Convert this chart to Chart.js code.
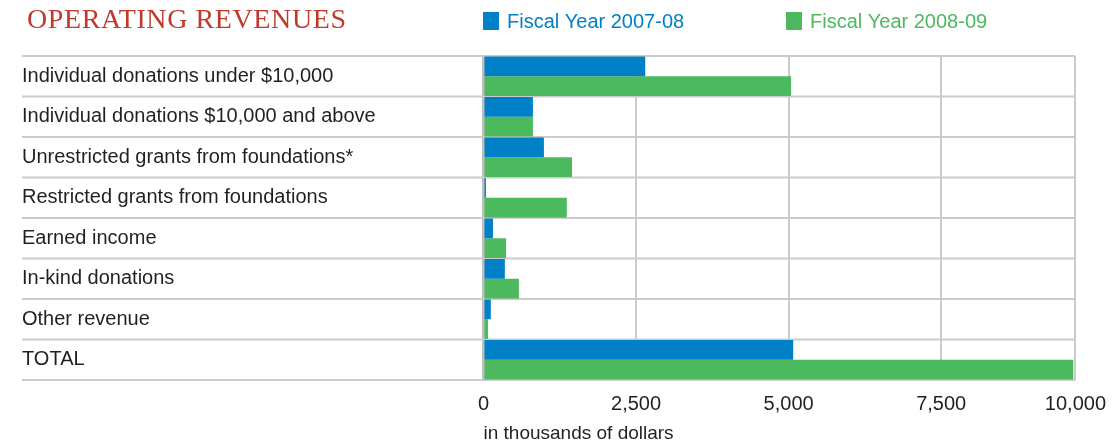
<!DOCTYPE html>
<html>
<head>
<meta charset="utf-8">
<script src="https://cdn.jsdelivr.net/npm/chart.js@4.4.1/dist/chart.umd.min.js"></script>
<style>
  html, body { margin: 0; padding: 0; background: #fff; }
  #wrap { width: 1118px; height: 442px; }
</style>
</head>
<body>
<div id="wrap"><canvas id="grafico" width="1118" height="442"></canvas></div>
<script>
// data (in thousands of dollars)
const categorias = [
  "Individual donations under $10,000",
  "Individual donations $10,000 and above",
  "Unrestricted grants from foundations*",
  "Restricted grants from foundations",
  "Earned income",
  "In-kind donations",
  "Other revenue",
  "TOTAL"
]
const fy0708 = [2650, 810, 990, 40, 155, 350, 120, 5075]
const fy0809 = [5040, 810, 1450, 1365, 370, 580, 75, 9665]
const serieNombres = ["Fiscal Year 2007-08", "Fiscal Year 2008-09"]
const xTicks = [0, 2500, 5000, 7500, 10000]
const xFin = 9700  // the plot stops a bit short of 10,000 in the original
const titulo = "OPERATING REVENUES"
const ejeTitulo = "in thousands of dollars"

const azul = "#0080c6"
const verde = "#4cb95e"
const gris = "#cbcbcb"
const texto = "#231f20"

// title + legend drawn on top of the canvas
const encabezado = {
  id: "encabezado",
  afterDraw(chart) {
    const c = chart.ctx
    c.save()
    c.textBaseline = "alphabetic"
    c.font = "28px 'Liberation Serif'"
    c.letterSpacing = "0.6px"
    c.fillStyle = "#c0392b"
    c.fillText(titulo, 27, 28)
    c.letterSpacing = "0px"
    const leyenda = [[483, azul, serieNombres[0]], [786, verde, serieNombres[1]]]
    c.font = "20px 'Liberation Sans'"
    leyenda.forEach(([x, color, nombre]) => {
      c.fillStyle = color
      c.fillRect(x, 12, 16, 18)
      c.fillText(nombre, x + 24, 28)
    })
    c.restore()
  }
}

// row separators run under the labels as well
const filas = {
  id: "filas",
  beforeDatasetsDraw(chart) {
    const y = chart.scales.y
    const c = chart.ctx
    const paso = y.getPixelForValue(1) - y.getPixelForValue(0)
    c.save()
    c.strokeStyle = gris
    c.lineWidth = 2
    for (let i = 0; i <= categorias.length; i++) {
      const py = y.getPixelForValue(i) - paso / 2
      c.beginPath()
      c.moveTo(22, py)
      c.lineTo(chart.chartArea.right, py)
      c.stroke()
    }
    c.restore()
  }
}

const ctx = document.getElementById("grafico")

let grafico = new Chart(ctx, {
  type: "bar",
  data: {
    labels: categorias,
    datasets: [
      { label: serieNombres[0], data: fy0708, backgroundColor: azul },
      { label: serieNombres[1], data: fy0809, backgroundColor: verde }
    ]
  },
  options: {
    indexAxis: "y",
    responsive: false,
    animation: false,
    devicePixelRatio: 1,
    categoryPercentage: 0.97,
    barPercentage: 1,
    layout: { padding: { left: 22, top: 56, right: 39, bottom: 0 } },
    plugins: { legend: { display: false }, tooltip: { enabled: false } },
    scales: {
      x: {
        min: 0,
        max: xFin,
        afterBuildTicks: (scale) => {
          scale.ticks = xTicks.map(v => ({ value: Math.min(v, xFin) }))
        },
        afterFit: (scale) => { scale.height = 62 },
        border: { display: false },
        grid: {
          color: (c) => c.tick && c.tick.value === 0 ? "#bdbdbd" : gris,
          lineWidth: 2,
          drawTicks: false
        },
        ticks: {
          padding: 12,
          maxRotation: 0,
          autoSkip: false,
          color: texto,
          font: { family: "'Liberation Sans'", size: 20 },
          callback: (v, i) => xTicks[i].toLocaleString("en-US")
        },
        title: {
          display: true,
          text: ejeTitulo,
          align: "start",
          color: texto,
          font: { family: "'Liberation Sans'", size: 19 },
          padding: { top: 0, bottom: -3 }
        }
      },
      y: {
        afterFit: (scale) => { scale.width = 461.5 },
        border: { color: "#bdbdbd", width: 2.5 },
        grid: { display: false },
        ticks: {
          crossAlign: "far",
          color: texto,
          font: { family: "'Liberation Sans'", size: 20 }
        }
      }
    }
  },
  plugins: [filas, encabezado]
})
</script>
</body>
</html>
